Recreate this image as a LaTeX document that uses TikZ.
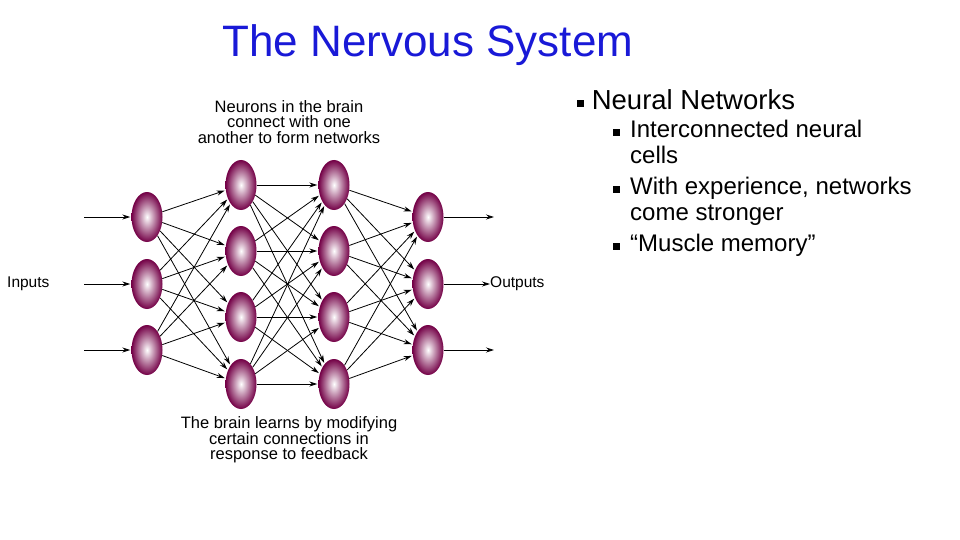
\documentclass[tikz,border=0pt]{standalone}
\usepackage{fontspec}
\setmainfont{Liberation Sans}
\usetikzlibrary{shapes.geometric,arrows.meta}
\definecolor{neu}{RGB}{115,0,70}
\definecolor{ttl}{RGB}{25,25,215}
\begin{document}
\begin{tikzpicture}[x=1pt,y=-1pt,
 neuron/.style={ellipse,minimum width=31pt,minimum height=50pt,inner sep=0pt,shading=radial,inner color=white,outer color=neu},
 conn/.style={-{Stealth[length=8pt,width=5pt]},line width=0.8pt,shorten >=1pt},
 lbl/.style={font=\fontsize{15.5}{15.5}\selectfont,align=center},
 bul/.style={anchor=west}]
\useasboundingbox (0,0) rectangle (960,540);
\node[text=ttl,font=\fontsize{44}{44}\selectfont,anchor=west] (title) at (219,45) {The Nervous System};
\foreach \i/\y in {1/217,2/284,3/350}{\node[neuron] (a\i) at (147,\y) {};\node[neuron] (d\i) at (428,\y) {};}
\foreach \i/\y in {1/185,2/251,3/317,4/384}{\node[neuron] (b\i) at (241,\y) {};\node[neuron] (c\i) at (334,\y) {};}
\foreach \i in {1,2,3}{\foreach \j in {1,2,3,4}{\draw[conn] (a\i) -- (b\j);}}
\foreach \i in {1,2,3,4}{\foreach \j in {1,2,3,4}{\draw[conn] (b\i) -- (c\j);}}
\foreach \i in {1,2,3,4}{\foreach \j in {1,2,3}{\draw[conn] (c\i) -- (d\j);}}
\coordinate (i1) at (84,217);\coordinate (i2) at (84,284);\coordinate (i3) at (84,350);
\coordinate (o1) at (495,217);\coordinate (o2) at (491,284);\coordinate (o3) at (495,350);
\foreach \i in {1,2,3}{\draw[conn] (i\i) -- (a\i); \draw[conn] (d\i) -- (o\i);}
\node[lbl,anchor=west,inner sep=0pt] (inp) at (7,284) {Inputs};
\node[lbl,anchor=west,inner sep=0pt] (out) at (490,284) {Outputs};
\node[lbl,font=\fontsize{16.5}{15.5}\selectfont] (top) at (289,122) {Neurons in the brain\\connect with one\\another to form networks};
\node[lbl,font=\fontsize{16.5}{15.5}\selectfont] (bot) at (289,440) {The brain learns by modifying\\certain connections in\\response to feedback};
\node[bul,inner sep=0pt,font=\fontsize{27.5}{28}\selectfont] (h) at (577,100) {\raisebox{3pt}{\rule{7pt}{7pt}} Neural Networks};
\node[bul,anchor=north west,inner sep=0pt,font=\fontsize{24}{26}\selectfont,align=left] (l) at (613,120) {%
\makebox[17pt][l]{\raisebox{2pt}{\rule{7pt}{7pt}}}Interconnected neural\\
\hspace*{17pt}cells\\[5pt]
\makebox[17pt][l]{\raisebox{2pt}{\rule{7pt}{7pt}}}With experience, networks\\
\hspace*{17pt}come stronger\\[5pt]
\makebox[17pt][l]{\raisebox{2pt}{\rule{7pt}{7pt}}}“Muscle memory”};
\end{tikzpicture}
\end{document}
